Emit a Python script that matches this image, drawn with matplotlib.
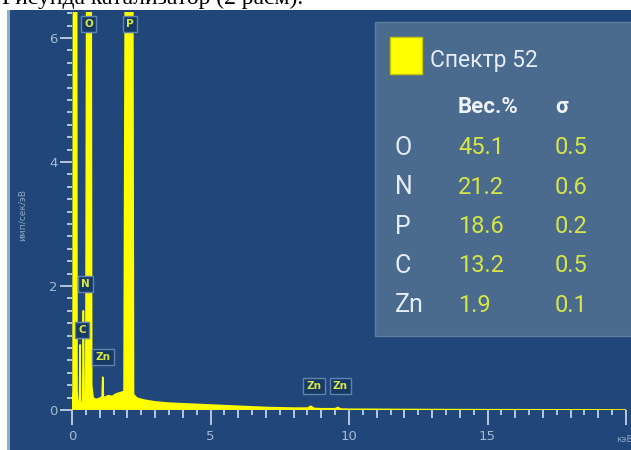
import matplotlib.pyplot as plt
from matplotlib.patches import Rectangle
from matplotlib.ticker import MultipleLocator

# spectrum (keV, имп/сек/эВ); peaks above 6.4 are cut by the frame
energy = [0.00, 0.04, 0.07, 0.15, 0.18, 0.21, 0.27, 0.29, 0.31, 0.35, 0.39, 0.41, 0.44,
          0.50, 0.57, 0.67, 0.71, 0.76, 0.85, 0.95, 1.05, 1.09, 1.11, 1.13, 1.18, 1.30,
          1.45, 1.60, 1.75, 1.88, 1.98, 2.16, 2.22, 2.35, 2.60, 3.00, 3.50, 4.00, 4.50,
          5.00, 5.50, 6.00, 6.50, 7.00, 7.50, 8.00, 8.50, 8.62, 8.75, 9.00, 9.50, 9.60,
          9.70, 10.0, 11.0, 12.0, 14.0, 17.0, 20.0]
counts = [0.00, 0.30, 15.0, 15.0, 0.30, 0.10, 0.15, 1.05, 0.12, 0.10, 0.15, 1.60, 0.15,
          0.20, 15.0, 15.0, 0.40, 0.20, 0.17, 0.18, 0.20, 0.22, 0.53, 0.22, 0.20, 0.23,
          0.22, 0.26, 0.28, 0.30, 15.0, 15.0, 0.25, 0.19, 0.16, 0.13, 0.11, 0.10, 0.09,
          0.08, 0.07, 0.06, 0.05, 0.04, 0.035, 0.03, 0.03, 0.06, 0.025, 0.02, 0.02, 0.04,
          0.015, 0.012, 0.01, 0.008, 0.005, 0.003, 0.0]

# peak labels: element, energy, height of the label box
peak_names = ['O', 'P', 'N', 'C', 'Zn', 'Zn', 'Zn']
peak_x = [0.61, 2.09, 0.47, 0.36, 1.12, 8.74, 9.68]
peak_y = [6.23, 6.23, 2.03, 1.29, 0.85, 0.39, 0.39]

# quantification table
elements = ['O', 'N', 'P', 'C', 'Zn']
wt_percent = ['45.1', '21.2', '18.6', '13.2', '1.9']
sigma = ['0.5', '0.6', '0.2', '0.5', '0.1']

x_ticks = [0, 5, 10, 15, 20]
x_tick_labels = ['0', '5', '10', '15', '']

W, H = 631, 450
bg = '#21477a'
tick_c = '#b4c6dc'
lab_c = '#a5b9d2'
val_c = '#d6e645'

fig = plt.figure(figsize=(W / 100, H / 100), dpi=100, facecolor='white')


def fx(px):
    return px / W


def fy(py):
    return 1 - py / H


# cut line of document text above the screenshot
fig.text(fx(2), fy(4), 'Рисунда катализатор (2 расм).', family='Liberation Serif',
         fontsize=17, color='black', va='baseline', zorder=-2)
# dark instrument panel
fig.patches.append(Rectangle((fx(10), 0), 1, fy(10), transform=fig.transFigure,
                             facecolor=bg, edgecolor='none', zorder=-1))
fig.patches.append(Rectangle((fx(7), 0), fx(3), fy(10), transform=fig.transFigure,
                             facecolor='#8fabcb', edgecolor='none', zorder=-1))

ax = fig.add_axes([fx(72), 40 / H, fx(554), 398 / H])
ax.set_facecolor('none')
ax.set_xlim(0, 20)
ax.set_ylim(0, 398 / 62)
ax.fill_between(energy, counts, 0, color='#ffff00', lw=0)
ax.plot(energy, counts, color='#ffff00', lw=1.2)

for s in ax.spines.values():
    s.set_visible(False)

ax.set_xticks(x_ticks, x_tick_labels)
ax.xaxis.set_minor_locator(MultipleLocator(0.5))
ax.yaxis.set_minor_locator(MultipleLocator(0.2))
ax.tick_params(axis='x', which='major', length=10.5, width=1.4, color=tick_c,
               labelcolor=lab_c, labelsize=9.5, pad=4)
ax.tick_params(axis='x', which='minor', length=3.5, width=1.4, color=tick_c)
ax.tick_params(axis='y', which='major', length=8.5, width=1.4, color=tick_c,
               labelcolor=lab_c, labelsize=9.5, pad=2)
ax.tick_params(axis='y', which='minor', length=3.5, width=1.4, color=tick_c)
ax.set_yticks([0, 2, 4, 6])

# integer ticks a bit longer than the half ones
sec = ax.secondary_xaxis('bottom')
sec.set_xticks(range(0, 21))
sec.tick_params(length=6, width=1.4, color=tick_c, labelbottom=False)
for s in sec.spines.values():
    s.set_visible(False)

for name, x, y in zip(peak_names, peak_x, peak_y):
    ax.text(x, y, name, ha='center', va='center', fontsize=7.5, fontweight='bold',
            color=val_c, zorder=5,
            bbox=dict(boxstyle='square,pad=0.3', fc='#163a64', ec='#5f82b2', lw=1))

fig.text(fx(22), fy(215), 'имп/сек/эВ', rotation=90, fontsize=6.5, color='#8ea6c4',
         ha='center', va='center')
fig.text(fx(616), fy(440), 'кэВ', fontsize=6.5, color='#8ea6c4', ha='left', va='center')

# quantification panel
fig.patches.append(Rectangle((fx(375), fy(336)), 1, fy(22) - fy(336),
                             transform=fig.transFigure, facecolor='#4a6a8e',
                             edgecolor='#5e7ea2', lw=1, zorder=1))
fig.patches.append(Rectangle((fx(390), fy(74)), fx(32), fy(37) - fy(74),
                             transform=fig.transFigure, facecolor='#ffff00',
                             edgecolor='#c8c800', lw=1, zorder=2))
fam = ['Roboto', 'DejaVu Sans']
fig.text(fx(430), fy(61), 'Спектр 52', family=fam, fontsize=16.5, color='#e4ecf4',
         va='center')
fig.text(fx(458), fy(107), 'Вес.%', family=fam, fontsize=16, fontweight='bold',
         color='#eef3f8', va='center')
fig.text(fx(555), fy(107), 'σ', family=fam, fontsize=16, fontweight='bold',
         color='#eef3f8', va='center')
for i, (el, wt, sg) in enumerate(zip(elements, wt_percent, sigma)):
    yy = fy(148 + i * 39.3)
    fig.text(fx(395), yy, el, family=fam, fontsize=18, color='#e4ecf4', va='center')
    fig.text(fx(458), yy, wt, family=fam, fontsize=17, color=val_c, va='center')
    fig.text(fx(555), yy, sg, family=fam, fontsize=17, color=val_c, va='center')

fig.savefig('out.png', dpi=100, facecolor=fig.get_facecolor())
